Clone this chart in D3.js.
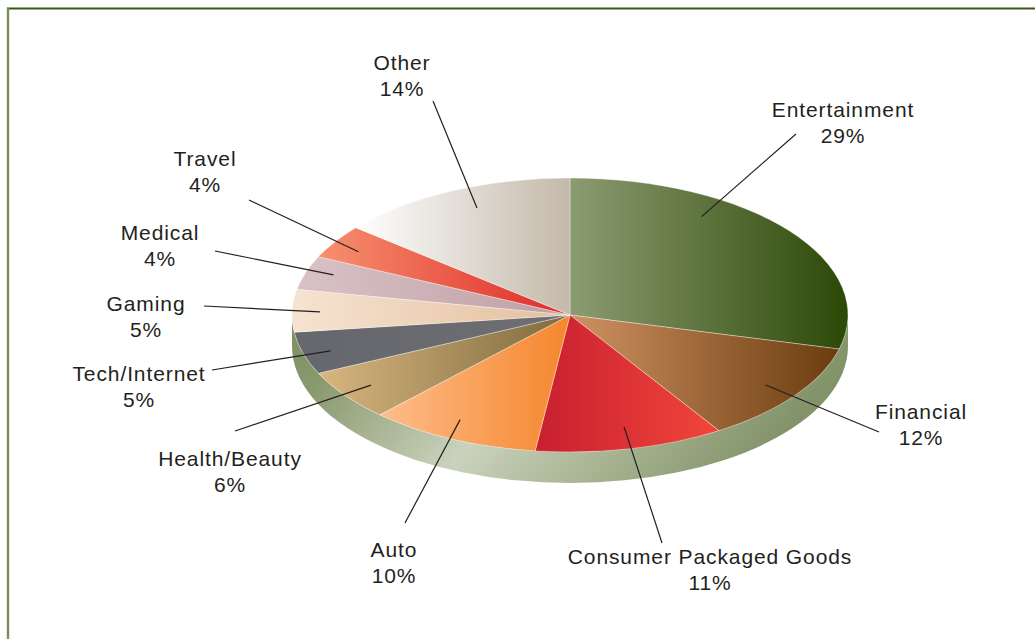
<!DOCTYPE html>
<html>
<head>
<meta charset="utf-8">
<script src="https://cdn.jsdelivr.net/npm/d3@7"></script>
<style>
  html, body { margin: 0; padding: 0; background: #ffffff; }
  svg { display: block; }
  .lbl { font-family: "Liberation Sans", Arial, Helvetica, sans-serif; font-size: 21px; fill: #231f20; letter-spacing: 0.9px; }
</style>
</head>
<body>
<svg id="chart" width="1035" height="639"></svg>
<script>
// Advertising share by category (percent of total)
const categories = [
  "Entertainment", "Financial", "Consumer Packaged Goods", "Auto",
  "Health/Beauty", "Tech/Internet", "Gaming", "Medical", "Travel", "Other"
];
const shares = [29, 12, 11, 10, 6, 5, 5, 4, 4, 14];
const shareLabels = ["29%", "12%", "11%", "10%", "6%", "5%", "5%", "4%", "4%", "14%"];

// Left-to-right fill gradient for each slice
const sliceColors = [
  ["#8c9c72", "#2c4806"],
  ["#cf9262", "#6a3c0e"],
  ["#c81f30", "#f1463a"],
  ["#fdbd8c", "#f5862c"],
  ["#d8b67e", "#7e6a3e"],
  ["#66676c", "#6e6f73"],
  ["#f6e3d1", "#e4bf9e"],
  ["#d9c2c6", "#bf9ea4"],
  ["#f7906f", "#df2a27"],
  ["#ffffff", "#c4b9aa"]
];

// Label placement: text centre / first baseline, leader outer end,
// and the leader's anchor inside the slice (fraction of the slice angle, radius fraction)
const labelLayout = [
  { tx: 843, ty: 117, ox: 796, oy: 134, t: 0.32, r: 0.86 },
  { tx: 921, ty: 419, ox: 879, oy: 432, t: 0.50, r: 0.87 },
  { tx: 710, ty: 564, ox: 662, oy: 543, t: 0.48, r: 0.84 },
  { tx: 394, ty: 557, ox: 405, oy: 523, t: 0.56, r: 0.86 },
  { tx: 230, ty: 466, ox: 235, oy: 431, t: 0.52, r: 0.88 },
  { tx: 139, ty: 381, ox: 212, oy: 370, t: 0.46, r: 0.90 },
  { tx: 146, ty: 311, ox: 204, oy: 306, t: 0.48, r: 0.90 },
  { tx: 160, ty: 240, ox: 215, oy: 251, t: 0.57, r: 0.90 },
  { tx: 205, ty: 166, ox: 249, oy: 200, t: 0.42, r: 0.89 },
  { tx: 402, ty: 70,  ox: 433, oy: 101, t: 0.54, r: 0.85 }
];

const cx = 570, cy = 315, rx = 278, ry = 137, depth = 31;
const lineGap = 26;

const svg = d3.select("#chart");
const defs = svg.append("defs");

// Frame rules (top and left)
svg.append("line").attr("x1", 7).attr("y1", 8.5).attr("x2", 1035).attr("y2", 8.5)
  .attr("stroke", "#3b5716").attr("stroke-width", 2);
svg.append("line").attr("x1", 8).attr("y1", 7.5).attr("x2", 8).attr("y2", 639)
  .attr("stroke", "#7b8c5f").attr("stroke-width", 2.4);

// Gradients
sliceColors.forEach((c, i) => {
  const g = defs.append("linearGradient").attr("id", "slice" + i)
    .attr("x1", 0).attr("y1", 0).attr("x2", 1).attr("y2", 0);
  g.append("stop").attr("offset", "0%").attr("stop-color", c[0]);
  g.append("stop").attr("offset", "100%").attr("stop-color", c[1]);
});
const sideGrad = defs.append("linearGradient").attr("id", "side")
  .attr("x1", 0).attr("y1", 0).attr("x2", 1).attr("y2", 0.25);
[["0%", "#7c8e60"], ["14%", "#8a9a6f"], ["48%", "#cad2bd"], ["72%", "#a9b593"], ["100%", "#82936a"]]
  .forEach(s => sideGrad.append("stop").attr("offset", s[0]).attr("stop-color", s[1]));

// The pie is drawn on a circle of radius rx and squashed vertically into the ellipse
const k = ry / rx;
const pie = d3.pie().sort(null).value(d => d).startAngle(0).endAngle(2 * Math.PI);
const arcs = pie(shares);
const arc = d3.arc().innerRadius(0).outerRadius(rx);

const disc = svg.append("g").attr("transform", `translate(${cx},${cy}) scale(1,${k})`);

// Front wall (lower half of the rim)
const D = depth / k;
const wall = d3.path();
wall.moveTo(rx, 0);
wall.arc(0, 0, rx, 0, Math.PI, false);
wall.lineTo(-rx, D);
wall.arc(0, D, rx, Math.PI, 0, true);
wall.closePath();
disc.append("path").attr("d", wall.toString()).attr("fill", "url(#side)");

// Top face slices
disc.selectAll("path.slice")
  .data(arcs)
  .join("path")
  .attr("class", "slice")
  .attr("d", arc)
  .attr("fill", (d, i) => `url(#slice${i})`)
  .attr("stroke", "rgba(255,255,255,0.45)")
  .attr("stroke-width", 0.8)
  .attr("vector-effect", "non-scaling-stroke");

// Leader lines
function anchor(a, lay) {
  const th = a.startAngle + lay.t * (a.endAngle - a.startAngle);
  return [cx + rx * lay.r * Math.sin(th), cy - ry * lay.r * Math.cos(th)];
}
svg.append("g").selectAll("line")
  .data(arcs)
  .join("line")
  .attr("x1", (d, i) => labelLayout[i].ox)
  .attr("y1", (d, i) => labelLayout[i].oy)
  .attr("x2", (d, i) => anchor(d, labelLayout[i])[0])
  .attr("y2", (d, i) => anchor(d, labelLayout[i])[1])
  .attr("stroke", "#231f20")
  .attr("stroke-width", 1.2);

// Labels
const labels = svg.append("g").selectAll("text")
  .data(arcs)
  .join("text")
  .attr("class", "lbl")
  .attr("text-anchor", "middle")
  .attr("x", (d, i) => labelLayout[i].tx)
  .attr("y", (d, i) => labelLayout[i].ty);
labels.append("tspan")
  .attr("x", (d, i) => labelLayout[i].tx)
  .text((d, i) => categories[i]);
labels.append("tspan")
  .attr("x", (d, i) => labelLayout[i].tx)
  .attr("dy", lineGap)
  .text((d, i) => shareLabels[i]);
</script>
</body>
</html>
